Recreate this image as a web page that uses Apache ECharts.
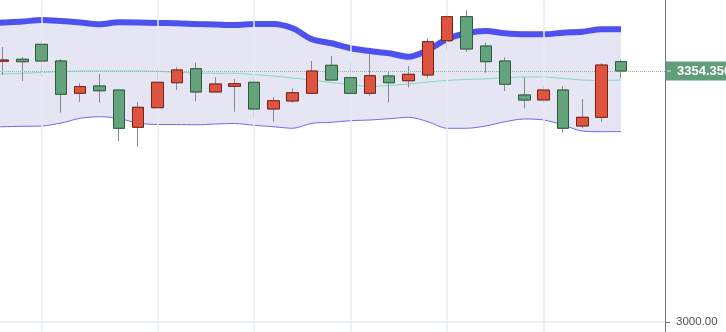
<!DOCTYPE html>
<html><head><meta charset="utf-8">
<script src="https://cdn.jsdelivr.net/npm/echarts@6/dist/echarts.min.js"></script>
<style>html,body{margin:0;padding:0;background:#fff}#c{width:726px;height:332px}</style>
</head><body><div id="c"></div>
<script>
// candle index (x categories)
const candleIdx = [0,1,2,3,4,5,6,7,8,9,10,11,12,13,14,15,16,17,18,19,20,21,22,23,24,25,26,27,28,29,30,31,32];
const opens  = [3368.1,3370.9,3392.0,3368.5,3322.9,3333.2,3327.5,3274.9,3302.5,3337.8,3357.6,3324.7,3332.7,3338.4,3300.7,3312.0,3322.9,3362.4,3344.9,3322.9,3347.3,3340.6,3348.7,3397.1,3431.0,3389.6,3368.5,3320.5,3313.4,3327.5,3276.7,3289.0,3367.5];
const closes = [3369.9,3367.5,3368.5,3321.5,3332.2,3326.5,3273.5,3303.1,3338.4,3355.8,3324.7,3336.0,3336.4,3300.7,3312.4,3323.7,3354.3,3341.6,3322.9,3347.7,3337.8,3349.7,3395.7,3431.0,3385.4,3367.5,3335.6,3313.4,3327.5,3273.5,3289.0,3362.8,3354.35];
const lows   = [3348.7,3340.2,3345.9,3295.5,3311.0,3309.6,3255.5,3247.5,3302.5,3327.5,3311.6,3324.7,3296.9,3287.6,3282.8,3309.6,3322.9,3341.6,3320.5,3319.1,3310.2,3331.3,3344.9,3383.0,3381.6,3351.9,3326.1,3301.7,3308.7,3267.8,3273.5,3282.8,3344.0];
const highs  = [3388.2,3374.1,3396.7,3370.9,3337.0,3350.1,3327.5,3310.2,3358.2,3359.6,3366.1,3345.5,3343.0,3346.3,3317.2,3329.9,3368.5,3375.5,3366.1,3377.9,3353.4,3361.4,3400.5,3433.4,3440.5,3394.3,3373.7,3345.5,3333.6,3333.2,3314.8,3365.2,3369.9];
// Bollinger bands (start one bar before the first visible candle)
const bandIdx    = [-1,0,1,2,3,4,5,6,7,8,9,10,11,12,13,14,15,16,17,18,19,20,21,22,23,24,25,26,27,28,29,30,31,32];
const upperBand  = [3421.4,3422.8,3424.2,3426.3,3424.9,3422.8,3420.3,3423.1,3422.8,3422.1,3421.7,3420.7,3420.0,3419.3,3420.7,3420.7,3414.6,3399.1,3393.5,3386.4,3382.6,3379.3,3374.5,3384.0,3399.5,3407.6,3410.8,3407.6,3406.2,3406.2,3408.4,3409.8,3413.2,3413.2];
const middleBand = [3349.4,3350.1,3351.1,3352.2,3353.6,3354.4,3354.4,3354.4,3354.4,3353.9,3352.5,3351.5,3351.1,3351.1,3349.4,3347.3,3344.5,3341.6,3338.1,3335.3,3332.5,3333.9,3336.0,3338.8,3341.0,3342.4,3343.3,3344.7,3345.9,3345.9,3343.8,3341.6,3341.0,3341.6];
const lowerBand  = [3275.4,3275.7,3276.3,3276.7,3280.9,3287.6,3289.8,3287.3,3280.9,3278.8,3278.8,3278.5,3279.5,3280.2,3277.7,3275.7,3273.5,3280.5,3281.9,3284.2,3285.2,3287.0,3289.0,3282.8,3273.5,3273.5,3276.7,3282.8,3286.6,3285.2,3278.1,3269.6,3268.7,3268.9];
const gridlineIdx = [2, 8, 13, 18, 23, 28];
const yTickValues = [3000];
const yTickLabels = ['3000.00'];
const lastPrice = 3354.35;

const bandPair = arr => bandIdx.map((x, i) => [x, arr[i]]);
const fullCandles = candleIdx.map((x, i) => [x, opens[i], closes[i], lows[i], highs[i]]);
const bodyCandles = candleIdx.map((x, i) => [x, opens[i], closes[i], Math.min(opens[i], closes[i]), Math.max(opens[i], closes[i])]);

const FONT = 'Liberation Sans';
const SM = 0.3;
const chart = echarts.init(document.getElementById('c'));
chart.setOption({
  animation: false,
  backgroundColor: '#fff',
  grid: { left: 0, right: 61, top: 0, bottom: 0, outerBoundsMode: 'none', containLabel: false },
  xAxis: {
    type: 'value', min: -0.155, max: 34.28,
    axisLine: { show: false }, axisTick: { show: false }, axisLabel: { show: false }, splitLine: { show: false }
  },
  yAxis: {
    type: 'value', position: 'right', min: 2985.88, max: 3454.58,
    axisLine: { show: true, onZero: false, lineStyle: { color: '#777', width: 1 } },
    axisTick: { show: true, length: 5, customValues: yTickValues, lineStyle: { color: '#777' } },
    axisLabel: {
      margin: 11, color: '#555', fontSize: 11.5, fontFamily: FONT, customValues: yTickValues,
      formatter: v => yTickLabels[yTickValues.indexOf(v)] || ''
    },
    splitLine: { show: false }
  },
  series: [
    {
      type: 'line', name: 'upperArea', data: bandPair(upperBand), symbol: 'none', smooth: SM, z: 1, silent: true,
      lineStyle: { width: 0, opacity: 0 },
      areaStyle: { color: '#e5e5f3', opacity: 1, origin: 'start' }
    },
    {
      type: 'line', name: 'lowerArea', data: bandPair(lowerBand), symbol: 'none', smooth: SM, z: 1, silent: true,
      lineStyle: { width: 0, opacity: 0 },
      areaStyle: { color: '#ffffff', opacity: 1, origin: 'start' }
    },
    {
      type: 'line', name: 'middle', data: bandPair(middleBand), symbol: 'none', smooth: SM, z: 2,
      lineStyle: { color: '#7fddbf', width: 1 },
      markLine: {
        silent: true, symbol: 'none', label: { show: false },
        lineStyle: { color: '#e5edf4', width: 1.5, type: 'solid' },
        data: gridlineIdx.map(v => ({ xAxis: v })).concat(yTickValues.map(v => ({ yAxis: v })))
      }
    },
    {
      type: 'line', name: 'lower', data: bandPair(lowerBand), symbol: 'none', smooth: SM, z: 3,
      lineStyle: { color: '#6b6bf4', width: 1 }
    },
    {
      type: 'line', name: 'upper', data: bandPair(upperBand), symbol: 'none', smooth: SM, z: 3,
      lineStyle: { color: '#4f50f0', width: 6, cap: 'butt' }
    },
    {
      type: 'candlestick', name: 'wicks', data: fullCandles, encode: { x: 0, y: [1, 2, 3, 4] }, barWidth: 12, z: 4,
      itemStyle: { color: '#888', color0: '#888', borderColor: '#888', borderColor0: '#888', borderWidth: 1 }
    },
    {
      type: 'candlestick', name: 'bodies', data: bodyCandles, encode: { x: 0, y: [1, 2, 3, 4] }, barWidth: 12, z: 5,
      itemStyle: { color: '#dd5440', color0: '#64a37c', borderColor: '#7a2014', borderColor0: '#2c5c3d', borderWidth: 1 },
      markLine: {
        silent: true, symbol: 'none',
        lineStyle: { color: '#8fb9a1', width: 1, type: 'dotted' },
        label: {
          show: true, position: 'end', distance: 1,
          color: '#fff', fontSize: 13, fontWeight: 'bold', fontFamily: FONT,
          formatter: '{d|}{v|' + lastPrice.toFixed(3) + '}',
          backgroundColor: '#5f9e78', padding: [3, 4, 3, 1],
          rich: {
            d: { width: 4, height: 1, backgroundColor: '#d5ebdd' },
            v: { color: '#fff', fontSize: 13, fontWeight: 'bold', fontFamily: FONT, padding: [0, 0, 0, 6], lineHeight: 13 }
          }
        },
        data: [{ yAxis: lastPrice }]
      }
    }
  ]
});
</script></body></html>
